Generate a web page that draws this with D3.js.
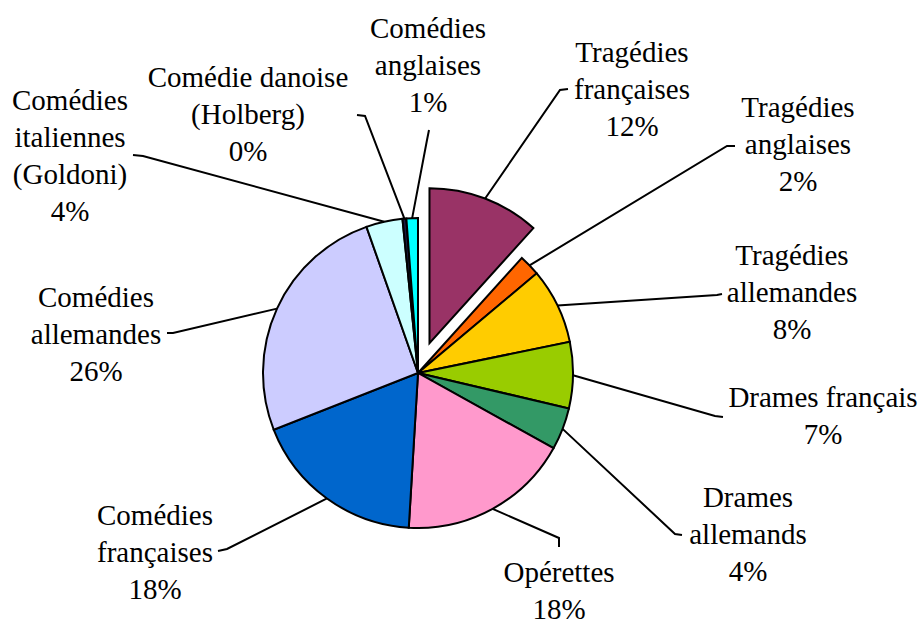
<!DOCTYPE html>
<html>
<head>
<meta charset="utf-8">
<script src="https://cdn.jsdelivr.net/npm/d3@7"></script>
<style>
  html, body { margin: 0; padding: 0; background: #fff; }
</style>
</head>
<body>
<div id="chart"></div>
<script>
// data, clockwise from 12 o'clock
const categories = [
  ['Tragédies', 'françaises'],
  ['Tragédies', 'anglaises'],
  ['Tragédies', 'allemandes'],
  ['Drames français'],
  ['Drames', 'allemands'],
  ['Opérettes'],
  ['Comédies', 'françaises'],
  ['Comédies', 'allemandes'],
  ['Comédies', 'italiennes', '(Goldoni)'],
  ['Comédie danoise', '(Holberg)'],
  ['Comédies', 'anglaises']
];
const shares = [11.7, 2.2, 7.9, 6.9, 4.4, 17.9, 18.1, 25.6, 3.8, 0.4, 1.2];
const colors = ['#993366', '#ff6600', '#ffcc00', '#99cc00', '#339966', '#ff99cc',
                '#0066cc', '#ccccff', '#ccffff', '#1a1a40', '#00ffff'];

// label layout: text centre x, first baseline y, leader elbow and end
const labelPos = [
  { x: 632, y: 62,  elbow: [560, 90],  end: [568, 89] },
  { x: 798, y: 117, elbow: [727, 146], end: [735, 146] },
  { x: 792, y: 265, elbow: [717, 295], end: [722, 294] },
  { x: 823, y: 407, elbow: [715, 416], end: [723, 417] },
  { x: 748, y: 507, elbow: [675, 534], end: [682, 535] },
  { x: 559, y: 582, elbow: [559, 538], end: [559, 547] },
  { x: 155, y: 525, elbow: [227, 549], end: [218, 551] },
  { x: 96,  y: 307, elbow: [173, 333], end: [167, 333] },
  { x: 70,  y: 110, elbow: [143, 156], end: [133, 155] },
  { x: 248, y: 87,  elbow: [365, 116], end: [357, 115] },
  { x: 428, y: 38,  elbow: [427, 140], end: [429, 130] }
];

const width = 921, height = 621;
const cx = 418, cy = 373, radius = 155;
const explode = [32, 0, 0, 0, 0, 0, 0, 0, 0, 0, 0];
const lineH = 37;
const serif = 'Liberation Serif';

const svg = d3.select('#chart').append('svg')
  .attr('width', width)
  .attr('height', height)
  .style('font-family', serif);

const pie = d3.pie().sort(null).value(d => d);
const arcs = pie(shares);
const arc = d3.arc().innerRadius(0).outerRadius(radius);
const pct = d3.format('.0f');

const mid = d => (d.startAngle + d.endAngle) / 2;
const offset = (d, i) => [Math.sin(mid(d)) * explode[i], -Math.cos(mid(d)) * explode[i]];

const g = svg.append('g').attr('transform', `translate(${cx},${cy})`);

g.selectAll('path.slice')
  .data(arcs)
  .enter()
  .append('path')
  .attr('class', 'slice')
  .attr('d', arc)
  .attr('transform', (d, i) => `translate(${offset(d, i)})`)
  .attr('fill', (d, i) => colors[i])
  .attr('stroke', '#000')
  .attr('stroke-width', 2)
  .attr('stroke-linejoin', 'miter');

// leader lines
svg.selectAll('polyline.leader')
  .data(arcs)
  .enter()
  .append('polyline')
  .attr('class', 'leader')
  .attr('fill', 'none')
  .attr('stroke', '#000')
  .attr('stroke-width', 2)
  .attr('points', (d, i) => {
    const o = offset(d, i);
    const a = mid(d);
    const p = [cx + o[0] + Math.sin(a) * radius, cy + o[1] - Math.cos(a) * radius];
    const lp = labelPos[i];
    return [p, lp.elbow, lp.end].map(q => q.join(',')).join(' ');
  });

// labels, one text element per line
arcs.forEach((d, i) => {
  const lines = categories[i].concat([pct(d.data) + '%']);
  lines.forEach((s, k) => {
    svg.append('text')
      .attr('class', 'label')
      .attr('x', labelPos[i].x)
      .attr('y', labelPos[i].y + k * lineH)
      .attr('font-family', serif)
      .attr('font-size', 29)
      .attr('fill', '#000')
      .attr('text-anchor', 'middle')
      .text(s);
  });
});
</script>
</body>
</html>
